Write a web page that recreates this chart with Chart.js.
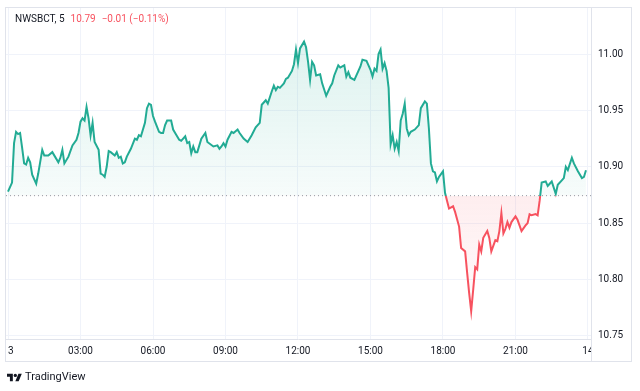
<!DOCTYPE html>
<html>
<head>
<meta charset="utf-8">
<script src="https://cdn.jsdelivr.net/npm/chart.js@4.4.1/dist/chart.umd.min.js"></script>
<style>
  html, body { margin: 0; padding: 0; background: #fff; }
  #wrap { position: relative; width: 640px; height: 391px; font-family: Roboto, "Liberation Sans", sans-serif; }
  #chart { position: absolute; left: 0; top: 0; }
  #legend { position: absolute; left: 15px; top: 13px; font-size: 10px; line-height: 12px; color: #131722; white-space: nowrap; }
  #legend .chg { color: #f7525f; margin-left: 6px; }
  #brand { position: absolute; left: 7px; top: 370px; font-size: 11px; line-height: 14px; color: #131722; display: flex; align-items: center; gap: 3px; }
</style>
</head>
<body>
<div id="wrap">
  <canvas id="chart" width="640" height="391"></canvas>
  <div id="legend">NWSBCT, 5<span class="chg">10.79</span><span class="chg">−0.01 (−0.11%)</span></div>
  <div id="brand">
    <svg width="15" height="11" viewBox="0 0 36 26"><path d="M14 22H7V11H0V4h14v18zM28 22h-8l7.5-18h8L28 22z" fill="#131722"/><circle cx="20" cy="8" r="4" fill="#131722"/></svg>
    <span>TradingView</span>
  </div>
</div>
<script>
// 5-minute closes, minutes since midnight
const times = [
  0, 10, 15, 20, 25, 30, 35, 40, 45, 50, 55, 60, 70, 75, 85,
  90, 100, 110, 125, 130, 135, 140, 150, 160, 170, 175, 180, 185, 190, 195,
  200, 205, 210, 215, 225, 230, 235, 240, 245, 250, 255, 265, 270, 275, 280,
  285, 290, 295, 305, 315, 320, 325, 330, 340, 345, 350, 355, 360, 365, 375,
  380, 385, 390, 395, 405, 410, 415, 425, 430, 440, 445, 450, 455, 460, 465,
  470, 480, 490, 495, 510, 520, 525, 530, 535, 540, 545, 555, 560, 570, 575,
  585, 595, 605, 615, 625, 630, 640, 645, 655, 660, 665, 670, 675, 685, 690,
  695, 705, 710, 715, 720, 725, 735, 740, 745, 750, 755, 760, 765, 775, 780,
  790, 800, 805, 810, 820, 825, 830, 835, 840, 845, 850, 860, 875, 880, 890,
  900, 905, 910, 915, 920, 925, 930, 935, 940, 945, 950, 955, 960, 965, 970,
  975, 980, 985, 990, 995, 1000, 1010, 1020, 1025, 1035, 1040, 1045, 1050, 1055, 1060,
  1065, 1070, 1080, 1085, 1090, 1095, 1105, 1110, 1120, 1125, 1135, 1140, 1145, 1150, 1155,
  1160, 1165, 1170, 1175, 1180, 1190, 1195, 1200, 1210, 1215, 1220, 1225, 1230, 1235, 1240,
  1245, 1250, 1260, 1265, 1270, 1275, 1285, 1290, 1295, 1300, 1310, 1315, 1320, 1325, 1335,
  1340, 1345, 1350, 1360, 1365, 1375, 1380, 1385, 1390, 1400, 1405, 1415, 1425, 1430, 1435
];
const prices = [
  10.878, 10.886, 10.921, 10.931, 10.929, 10.930, 10.917, 10.903, 10.902, 10.908, 10.904, 10.893, 10.885, 10.894, 10.915,
  10.910, 10.910, 10.913, 10.904, 10.908, 10.915, 10.903, 10.909, 10.919, 10.924, 10.930, 10.940, 10.943, 10.941, 10.953,
  10.943, 10.928, 10.939, 10.922, 10.915, 10.894, 10.893, 10.891, 10.900, 10.914, 10.913, 10.910, 10.913, 10.908, 10.909,
  10.903, 10.904, 10.909, 10.916, 10.925, 10.924, 10.928, 10.927, 10.939, 10.952, 10.956, 10.955, 10.945, 10.940, 10.931,
  10.930, 10.930, 10.937, 10.941, 10.941, 10.933, 10.930, 10.924, 10.923, 10.927, 10.921, 10.922, 10.912, 10.918, 10.913,
  10.913, 10.925, 10.930, 10.922, 10.918, 10.919, 10.916, 10.918, 10.921, 10.918, 10.924, 10.931, 10.930, 10.933, 10.930,
  10.925, 10.922, 10.928, 10.935, 10.939, 10.955, 10.959, 10.956, 10.967, 10.972, 10.968, 10.971, 10.970, 10.974, 10.978,
  10.979, 10.985, 10.991, 11.004, 10.992, 11.005, 11.011, 11.006, 10.993, 10.977, 10.993, 10.990, 10.981, 10.982, 10.974,
  10.963, 10.971, 10.974, 10.981, 10.990, 10.988, 10.989, 10.990, 10.980, 10.984, 10.979, 10.977, 10.989, 10.995, 10.994,
  10.986, 10.980, 10.987, 10.985, 11.000, 11.004, 10.987, 10.992, 10.985, 10.970, 10.920, 10.928, 10.916, 10.922, 10.914,
  10.941, 10.947, 10.956, 10.934, 10.928, 10.931, 10.933, 10.937, 10.952, 10.958, 10.956, 10.934, 10.903, 10.896, 10.895,
  10.887, 10.891, 10.896, 10.877, 10.870, 10.863, 10.865, 10.860, 10.847, 10.828, 10.825, 10.806, 10.788, 10.772, 10.791,
  10.811, 10.809, 10.831, 10.825, 10.837, 10.843, 10.837, 10.825, 10.835, 10.834, 10.843, 10.859, 10.841, 10.845, 10.851,
  10.846, 10.851, 10.856, 10.853, 10.848, 10.843, 10.848, 10.850, 10.858, 10.857, 10.858, 10.857, 10.870, 10.886, 10.887,
  10.883, 10.885, 10.887, 10.876, 10.884, 10.888, 10.890, 10.900, 10.897, 10.908, 10.903, 10.896, 10.890, 10.891, 10.897
];
const timeTicks = [0, 180, 360, 540, 720, 900, 1080, 1260, 1440];
const timeLabels = ["13", "03:00", "06:00", "09:00", "12:00", "15:00", "18:00", "21:00", "14"];
const priceTicks = [10.75, 10.80, 10.85, 10.90, 10.95, 11.00];
const prevClose = 10.8744;

const X_MIN = -5, X_MAX = 1447.5;
const Y_MIN = 10.7473, Y_MAX = 11.0417;

const UP = "#22ab94", DOWN = "#f7525f";
const GRID = "#f0f3fa", FRAME = "#e0e3eb", TEXT = "#131722";
const FONT = { family: "Roboto, 'Liberation Sans', sans-serif", size: 10 };

// split colour at the previous-close level
function baseStop(chart) {
  const { chartArea, scales } = chart;
  const yb = scales.y.getPixelForValue(prevClose);
  return { top: chartArea.top, bottom: chartArea.bottom, yb, s: (yb - chartArea.top) / (chartArea.bottom - chartArea.top) };
}

function lineStroke(ctx) {
  const chart = ctx.chart;
  if (!chart.chartArea) return UP;
  const b = baseStop(chart);
  const g = chart.ctx.createLinearGradient(0, b.top, 0, b.bottom);
  g.addColorStop(0, UP); g.addColorStop(b.s, UP);
  g.addColorStop(b.s, DOWN); g.addColorStop(1, DOWN);
  return g;
}

function areaFill(ctx) {
  const chart = ctx.chart;
  if (!chart.chartArea) return { target: { value: prevClose }, above: "rgba(34,171,148,0.08)", below: "rgba(247,82,95,0.05)" };
  const b = baseStop(chart);
  const up = chart.ctx.createLinearGradient(0, chart.scales.y.getPixelForValue(11.01), 0, b.yb);
  up.addColorStop(0, "rgba(34,171,148,0.15)");
  up.addColorStop(1, "rgba(34,171,148,0.04)");
  const dn = chart.ctx.createLinearGradient(0, b.yb, 0, chart.scales.y.getPixelForValue(10.77));
  dn.addColorStop(0, "rgba(247,82,95,0.10)");
  dn.addColorStop(1, "rgba(247,82,95,0.02)");
  return { target: { value: prevClose }, above: up, below: dn };
}

// frame lines + clip the labels that run under the panes
const paneFrame = {
  id: "paneFrame",
  afterDraw(chart) {
    const c = chart.ctx;
    c.save();
    c.fillStyle = "#fff";
    c.fillRect(0, 340, 7, 21);
    c.fillRect(592, 340, 48, 21);
    c.strokeStyle = FRAME;
    c.lineWidth = 1;
    c.strokeRect(5.5, 7.5, 626, 354);
    c.beginPath();
    c.moveTo(591.5, 7); c.lineTo(591.5, 362);
    c.moveTo(5, 339.5); c.lineTo(592, 339.5);
    c.stroke();
    c.restore();
  }
};

new Chart(document.getElementById("chart"), {
  type: "line",
  data: {
    datasets: [
      {
        data: times.map((t, i) => ({ x: t, y: prices[i] })),
        borderColor: lineStroke,
        borderWidth: 2,
        pointRadius: 0,
        tension: 0,
        fill: areaFill,
        order: 1,
      },
      {
        data: [{ x: X_MIN, y: prevClose }, { x: X_MAX, y: prevClose }],
        borderColor: "#9598a1",
        borderWidth: 1,
        borderDash: [1, 3],
        pointRadius: 0,
        fill: false,
        order: 0,
      },
    ],
  },
  options: {
    responsive: false,
    animation: false,
    layout: { padding: { left: 6, top: 7, right: 8, bottom: 30 } },
    plugins: { legend: { display: false }, tooltip: { enabled: false } },
    scales: {
      x: {
        type: "linear", min: X_MIN, max: X_MAX,
        grid: { color: GRID, drawTicks: false },
        border: { display: false },
        ticks: {
          autoSkip: false, maxRotation: 0, padding: 6, color: TEXT, font: FONT,
          callback: (v, i) => timeLabels[i],
        },
        afterBuildTicks: (s) => { s.ticks = timeTicks.map((v) => ({ value: v })); },
        afterFit: (s) => { s.height = 22; s.paddingLeft = 0; s.paddingRight = 0; },
      },
      y: {
        position: "right", min: Y_MIN, max: Y_MAX,
        grid: { color: GRID, drawTicks: false },
        border: { display: false },
        ticks: { padding: 7, color: TEXT, font: FONT, callback: (v) => v.toFixed(2) },
        afterBuildTicks: (s) => { s.ticks = priceTicks.map((v) => ({ value: v })); },
        afterFit: (s) => { s.width = 41; s.paddingTop = 0; s.paddingBottom = 0; },
      },
    },
  },
  plugins: [paneFrame],
});
</script>
</body>
</html>
